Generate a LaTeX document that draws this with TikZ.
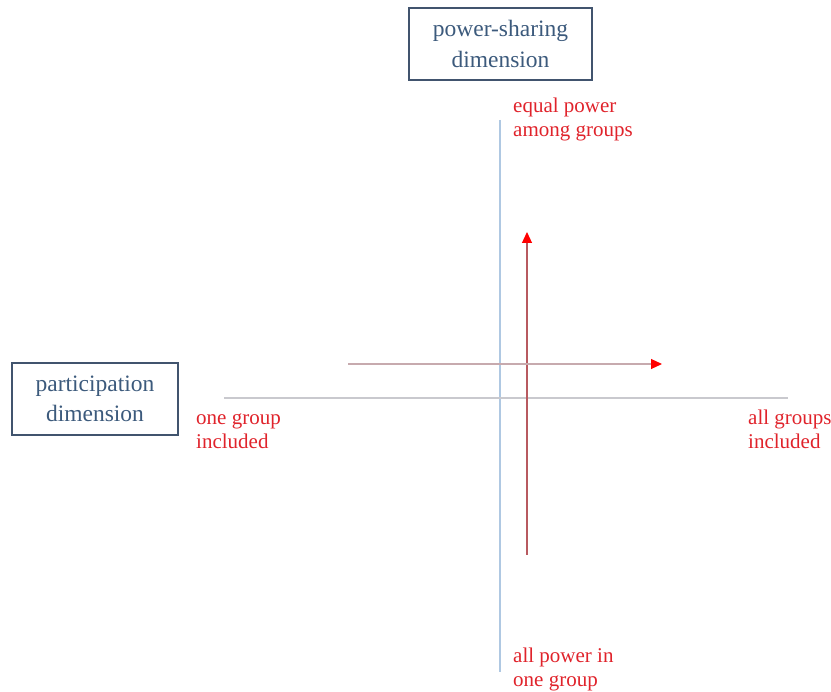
\documentclass[tikz,border=0pt]{standalone}
\usepackage{fontspec}
\setmainfont{Liberation Serif}
\usetikzlibrary{arrows.meta}
\definecolor{boxblue}{HTML}{41546E}
\definecolor{boxtext}{HTML}{3C5A7C}
\definecolor{lblred}{HTML}{E0232B}
\definecolor{axisblue}{HTML}{AFC8E2}
\definecolor{axisgray}{HTML}{C9C9CE}
\definecolor{vecred}{HTML}{B85A60}
\definecolor{vecgray}{HTML}{C7AAAE}
\tikzset{
  dimbox/.style={draw=boxblue, line width=1.3pt, text=boxtext, align=center,
    font=\fontsize{23.5}{30.5}\selectfont, inner sep=0pt},
  % base anchor of a two-line label sits on its second line
  pole/.style={text=lblred, align=left, anchor=base west,
    font=\fontsize{21}{24}\selectfont, inner sep=0pt},
  vec/.style={line width=1.1pt, -{Triangle[length=11pt,width=10pt,fill=red,color=red]}},
}
\begin{document}
\begin{tikzpicture}[x=1pt,y=-1pt]
  \useasboundingbox (0,0) rectangle (831,692);
  % dimension boxes
  \node[dimbox, minimum width=183pt, minimum height=72pt] (psd) at (500.5,44) {power-sharing\\dimension};
  \node[dimbox, minimum width=166pt, minimum height=72pt] (pd) at (95,399) {participation\\dimension};
  % axes
  \coordinate (vtop) at (500,120);
  \coordinate (vbot) at (500,672);
  \coordinate (hleft) at (224,398);
  \coordinate (hright) at (788,398);
  \draw[axisblue, line width=1.2pt] (vtop) -- (vbot);
  \draw[axisgray, line width=1.2pt] (hleft) -- (hright);
  % pole labels
  \node[pole] (eq) at (513,137) {equal power\\among groups};
  \node[pole] (one) at (196,449) {one group\\included};
  \node[pole] (all) at (748,449) {all groups\\included};
  \node[pole] (allp) at (513,686) {all power in\\one group};
  % direction vectors
  \coordinate (v0) at (527,555);
  \coordinate (v1) at (527,232);
  \coordinate (h0) at (348,364);
  \coordinate (h1) at (662,364);
  \draw[vec, vecred] (v0) -- (v1);
  \draw[vec, vecgray] (h0) -- (h1);
\end{tikzpicture}
\end{document}
